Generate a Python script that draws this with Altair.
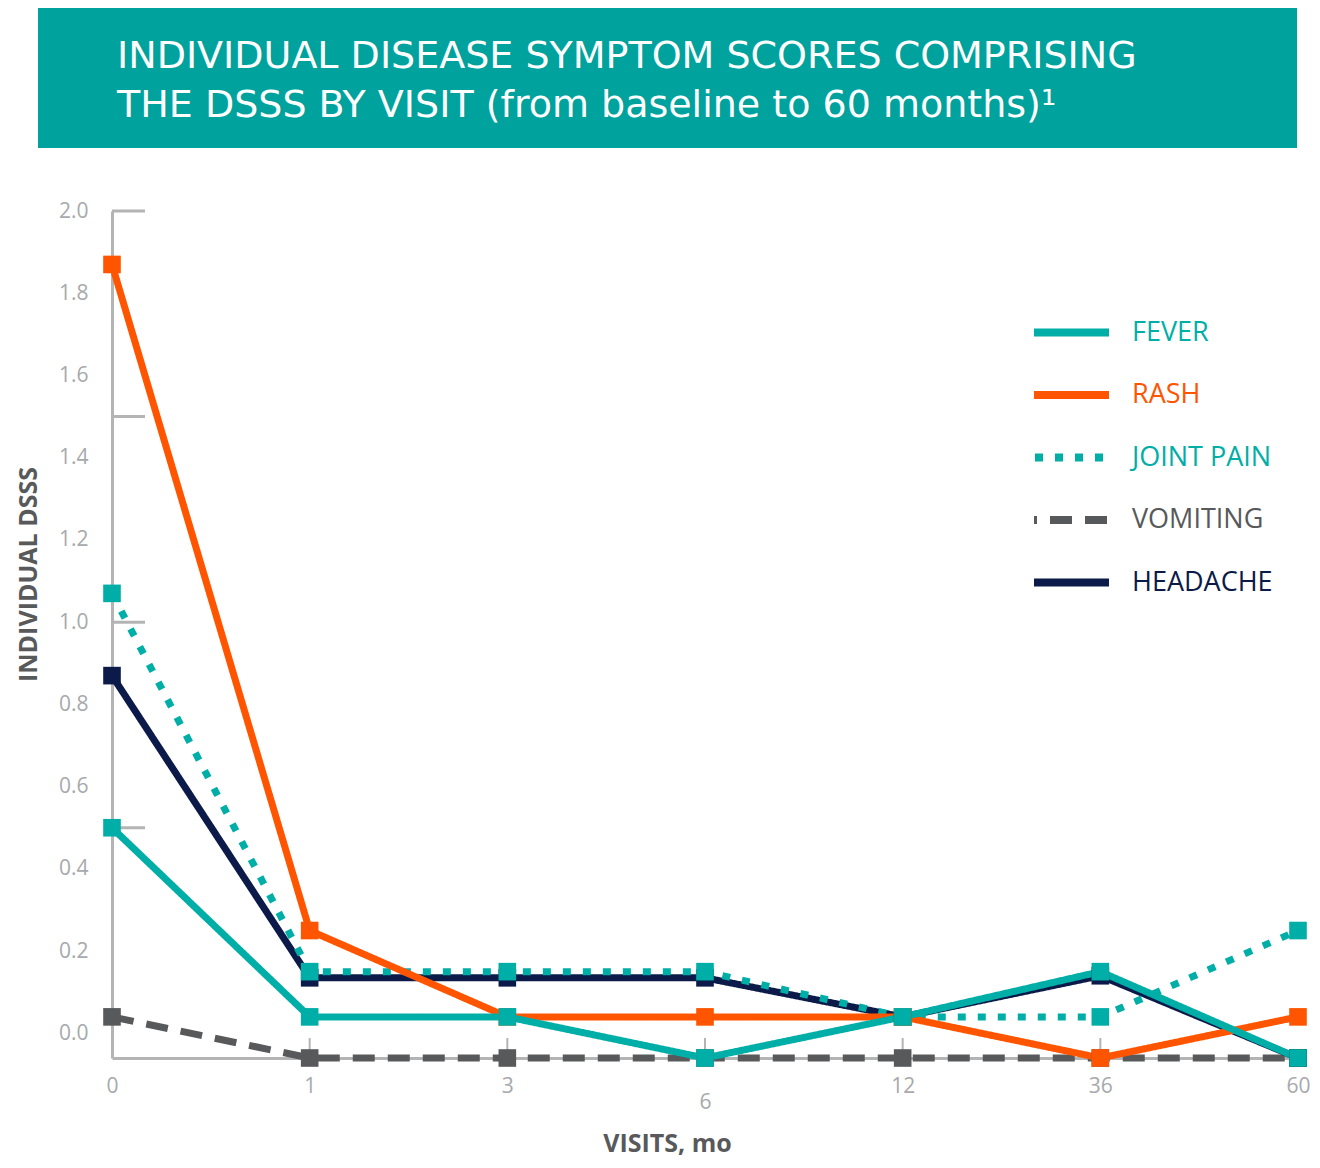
import altair as alt
import pandas as pd

# ---------------- data ----------------
visits = ["0", "1", "3", "6", "12", "36", "60"]
series = ["FEVER", "RASH", "JOINT PAIN", "VOMITING", "HEADACHE"]
fever = [0.50, 0.04, 0.04, -0.06, 0.04, 0.15, -0.06]
rash = [1.87, 0.25, 0.04, 0.04, 0.04, -0.06, 0.04]
joint_pain = [1.07, 0.15, 0.15, 0.15, 0.04, 0.04, 0.25]
vomiting = [0.04, -0.06, -0.06, -0.06, -0.06, -0.06, -0.06]
headache = [0.87, 0.135, 0.135, 0.135, 0.04, 0.14, -0.06]
values_by_series = [fever, rash, joint_pain, vomiting, headache]

y_labels = [0.0, 0.2, 0.4, 0.6, 0.8, 1.0, 1.2, 1.4, 1.6, 1.8, 2.0]
y_ticks = [0.5, 1.0, 1.5, 2.0]
x_ticks = ["1", "3", "6", "12", "36"]
title_lines = ["INDIVIDUAL DISEASE SYMPTOM SCORES COMPRISING",
               "THE DSSS BY VISIT (from baseline to 60 months)\u00b9"]

# ---------------- styles ----------------
colors = ["#00aea8", "#ff5500", "#00aea8", "#58595b", "#0b1a48"]
dashes = [[1, 0], [1, 0], [8, 12], [22, 13], [1, 0]]
z_order = ["VOMITING", "HEADACHE", "JOINT PAIN", "RASH", "FEVER"]
BANNER = "#00a29e"
AXIS_GRAY = "#b4b4b4"
LABEL_GRAY = "#a7a9ac"
TITLE_GRAY = "#58595b"
FONT = "Open Sans"
W, H = 1186, 847

rows = []
for s, vals in zip(series, values_by_series):
    for v, val in zip(visits, vals):
        rows.append({"series": s, "visit": v, "value": val})
df = pd.DataFrame(rows)

color_expr = " : ".join(
    f"datum.label == '{s}' ? '{c}'" for s, c in zip(series, colors)
) + " : '#333333'"

x_axis = alt.Axis(
    title="VISITS, mo", titleFont=FONT, titleFontSize=25, titleFontWeight="bold",
    titleColor=TITLE_GRAY, titleX=555, titleY=85, titleBaseline="middle",
    titleAlign="center",
    labelExpr="datum.value == '6' ? ['', '6'] : datum.value",
    labelLineHeight=16, labelAngle=0, labelFont=FONT, labelFontSize=21,
    labelColor=LABEL_GRAY, labelPadding=17, ticks=False, grid=False,
    domainColor=AXIS_GRAY, domainWidth=3,
)
y_axis = alt.Axis(
    values=y_labels, format=".1f", title="INDIVIDUAL DSSS", titleFont=FONT,
    titleFontSize=25, titleFontWeight="bold", titleColor=TITLE_GRAY,
    titleX=-84, titleY=363, titleAngle=270, titleAlign="center",
    titleBaseline="middle", labelFont=FONT, labelFontSize=21,
    labelColor=LABEL_GRAY, labelPadding=24, ticks=False, grid=False,
    domainColor=AXIS_GRAY, domainWidth=3,
)
x_scale = alt.Scale(type="point", domain=visits, padding=0)
y_scale = alt.Scale(domain=[-0.06, 2.0], nice=False, zero=False)


def X():
    return alt.X("visit:N", scale=x_scale, axis=x_axis, sort=visits)


def Y():
    return alt.Y("value:Q", scale=y_scale, axis=y_axis)


legend = alt.Legend(
    title=None, orient="none", legendX=918, legendY=80,
    symbolType="stroke", symbolSize=5625, symbolStrokeWidth=8,
    symbolDashOffset=19,
    labelFont=FONT, labelFontSize=27, labelOffset=19,
    labelColor=alt.ExprRef(expr=color_expr), rowPadding=4.5,
)

layers = []

# banner
banner_df = pd.DataFrame({"k": [0]})
layers.append(
    alt.Chart(banner_df).mark_rect(color=BANNER).encode(
        x=alt.value(-74), x2=alt.value(1185), y=alt.value(-203), y2=alt.value(-63)
    )
)
for i, line in enumerate(title_lines):
    layers.append(
        alt.Chart(pd.DataFrame({"t": [line]})).mark_text(
            align="left", baseline="alphabetic", color="white",
            font="DejaVu Sans", fontSize=38, fontWeight="normal",
        ).encode(x=alt.value(5), y=alt.value(-143 + 49 * i), text="t:N")
    )

# axis decorations (inward ticks)
layers.append(
    alt.Chart(pd.DataFrame({"value": y_ticks})).mark_rule(
        color=AXIS_GRAY, strokeWidth=3
    ).encode(y=Y(), x=alt.value(0), x2=alt.value(33))
)
layers.append(
    alt.Chart(pd.DataFrame({"visit": x_ticks})).mark_rule(
        color=AXIS_GRAY, strokeWidth=2
    ).encode(x=X(), y=alt.value(H - 20), y2=alt.value(H))
)

# series lines
for s in z_order:
    layers.append(
        alt.Chart(df).transform_filter(alt.datum.series == s).mark_line(
            strokeWidth=7, strokeCap="butt"
        ).encode(
            x=X(), y=Y(),
            color=alt.Color("series:N", scale=alt.Scale(domain=series, range=colors),
                            legend=legend),
            strokeDash=alt.StrokeDash("series:N",
                                      scale=alt.Scale(domain=series, range=dashes),
                                      legend=legend),
        )
    )

# series markers
for s in z_order:
    c = colors[series.index(s)]
    layers.append(
        alt.Chart(df).transform_filter(alt.datum.series == s).mark_square(
            size=310, filled=True, opacity=1
        ).encode(x=X(), y=Y(), color=alt.value(c))
    )

chart = alt.layer(*layers).properties(
    width=W, height=H, background="white",
    padding={"left": 8, "top": 0, "right": 0, "bottom": 5},
).configure_view(strokeWidth=0, stroke="transparent")

chart.save("out.html", embed_options={"renderer": "svg", "actions": False})
